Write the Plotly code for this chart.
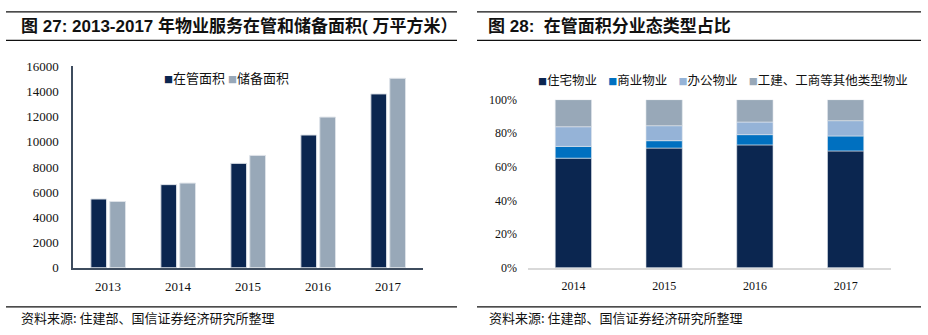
import plotly.graph_objects as go

W, H = 928, 335

# ---- data ----
years_left = ["2013", "2014", "2015", "2016", "2017"]
managed_area = [5460, 6600, 8290, 10540, 13800]
reserve_area = [5260, 6720, 8920, 11960, 15040]
left_names = ["在管面积", "储备面积"]
left_colors = ["#0B2650", "#98A8B8"]
left_ticks = [0, 2000, 4000, 6000, 8000, 10000, 12000, 14000, 16000]
left_ticktext = ["0", "2000", "4000", "6000", "8000", "10000", "12000", "14000", "16000"]

years_right = ["2014", "2015", "2016", "2017"]
residential = [0.652, 0.712, 0.731, 0.695]
commercial = [0.070, 0.044, 0.061, 0.089]
office = [0.117, 0.089, 0.075, 0.091]
other = [0.161, 0.155, 0.133, 0.125]
right_names = ["住宅物业", "商业物业", "办公物业", "工建、工商等其他类型物业"]
right_colors = ["#0B2650", "#0070C0", "#95B3D7", "#98A8B8"]
right_ticks = [0, 0.2, 0.4, 0.6, 0.8, 1.0]
right_ticktext = ["0%", "20%", "40%", "60%", "80%", "100%"]

title_left = "图 27: 2013-2017 年物业服务在管和储备面积( 万平方米）"
title_right = "图 28:  在管面积分业态类型占比"
source_text = "资料来源: 住建部、国信证券经济研究所整理"

CJK = "Noto Sans CJK SC"
SERIF = "Liberation Serif, Noto Sans CJK SC"


def px_x(p):
    return p / W


def px_y(p):
    return 1 - p / H


fig = go.Figure()

# left grouped bars
for vals, name, color, off in zip([managed_area, reserve_area], left_names, left_colors, [-0.245, 0.025]):
    fig.add_trace(go.Bar(
        x=years_left, y=vals, name=name, xaxis="x", yaxis="y",
        marker=dict(color=color, line=dict(color="#DDE2E8", width=1)),
        width=0.225, offset=off, showlegend=False,
    ))

# right stacked bars
series = [residential, commercial, office, other]
base = [0.0] * len(years_right)
for vals, name, color in zip(series, right_names, right_colors):
    fig.add_trace(go.Bar(
        x=years_right, y=vals, base=list(base), name=name, xaxis="x2", yaxis="y2",
        marker=dict(color=color, line=dict(color="#E3E7EC", width=0.6)),
        width=0.4, showlegend=False,
    ))
    base = [b + v for b, v in zip(base, vals)]

shapes = []
for x0, x1 in [(6, 457), (477, 921)]:
    for yy in [5, 35, 314]:
        shapes.append(dict(type="line", xref="paper", yref="paper",
                           x0=px_x(x0), x1=px_x(x1), y0=px_y(yy), y1=px_y(yy),
                           line=dict(color="#111111", width=1.2)))


def legend_text(names, colors, gap):
    parts = []
    for n, c in zip(names, colors):
        parts.append(f"<span style='color:{c};font-size:9px'>■</span>{n}")
    return (" " * gap).join(parts)


annotations = [
    dict(text=f"<b>{title_left}</b>", x=px_x(19), y=px_y(20), xref="paper", yref="paper",
         xanchor="left", yanchor="middle", showarrow=False,
         font=dict(family="Liberation Sans, " + CJK, size=17, color="#111111")),
    dict(text=f"<b>{title_right}</b>", x=px_x(486), y=px_y(20), xref="paper", yref="paper",
         xanchor="left", yanchor="middle", showarrow=False,
         font=dict(family="Liberation Sans, " + CJK, size=17, color="#111111")),
    dict(text=source_text, x=px_x(19), y=px_y(325), xref="paper", yref="paper",
         xanchor="left", yanchor="middle", showarrow=False,
         font=dict(family=CJK, size=13, color="#111111")),
    dict(text=source_text, x=px_x(487), y=px_y(325), xref="paper", yref="paper",
         xanchor="left", yanchor="middle", showarrow=False,
         font=dict(family=CJK, size=13, color="#111111")),
    dict(text=legend_text(left_names, left_colors, 1), x=px_x(162), y=px_y(74), xref="paper", yref="paper",
         xanchor="left", yanchor="middle", showarrow=False,
         font=dict(family=CJK, size=13, color="#111111")),
    dict(text=legend_text(right_names, right_colors, 4), x=px_x(536), y=px_y(76), xref="paper", yref="paper",
         xanchor="left", yanchor="middle", showarrow=False,
         font=dict(family=CJK, size=12.5, color="#111111")),
]

fig.update_layout(
    width=W, height=H, margin=dict(l=0, r=0, t=0, b=0),
    paper_bgcolor="white", plot_bgcolor="white",
    barmode="overlay",
    shapes=shapes, annotations=annotations,
    xaxis=dict(domain=[px_x(73), px_x(423)], anchor="y", type="category",
               range=[-0.5, 4.5], showgrid=False, showline=True, linecolor="#3E4C5E",
               linewidth=2, ticks="", ticklabelstandoff=6,
               tickfont=dict(family=SERIF, size=13, color="#111111")),
    yaxis=dict(domain=[px_y(273), px_y(62)], anchor="x", range=[0, 16000],
               tickvals=left_ticks, ticktext=left_ticktext, showgrid=False, showline=True,
               linecolor="#3E4C5E", linewidth=1.5, ticks="", zeroline=False, ticklabelstandoff=10,
               tickfont=dict(family=SERIF, size=13, color="#111111")),
    xaxis2=dict(domain=[px_x(528), px_x(891)], anchor="y2", type="category",
                range=[-0.5, 3.5], showgrid=False, showline=True, linecolor="#D9D9D9",
                linewidth=2, ticks="", ticklabelstandoff=6,
                tickfont=dict(family=SERIF, size=12, color="#111111")),
    yaxis2=dict(domain=[px_y(273), px_y(97)], anchor="x2", range=[0, 1],
                tickvals=right_ticks, ticktext=right_ticktext, showgrid=False,
                showline=False, zeroline=False, ticks="", ticklabelstandoff=10,
                tickfont=dict(family=SERIF, size=12, color="#111111")),
)

fig.write_html("out.html")
